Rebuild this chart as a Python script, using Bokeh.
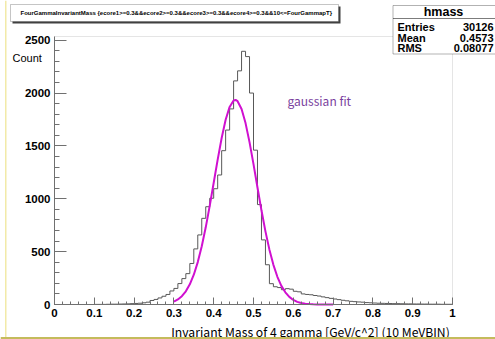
from bokeh.plotting import figure
from bokeh.models import Label, BoxAnnotation, FixedTicker, Range1d
from bokeh.embed import file_html
from bokeh.resources import INLINE

# ---------------- data ----------------
hist_name = "hmass"
title_text = "FourGammaInvariantMass {ecore1>=0.3&&ecore2>=0.3&&ecore3>=0.3&&ecore4>=0.3&&10<=FourGammapT}"
x_title = "Invariant Mass of 4 gamma [GeV/c^2]  (10 MeVBIN)"
y_title = "Count"
fit_label = "gaussian fit"

bin_low = 0.0
bin_width = 0.01
counts = [
    0, 0, 0, 0, 0, 0, 0, 0, 0, 0,
    1, 1, 1, 2, 3, 3, 4, 5, 6, 8,
    10, 12, 16, 22, 38, 48, 62, 78, 95, 128,
    152, 198, 245, 292, 388, 526, 658, 815, 925, 1005,
    1095, 1225, 1455, 1650, 1850, 2115, 2210, 2395, 2345, 2000,
    1460, 945, 611, 376, 197, 168, 160, 140, 150, 145,
    125, 120, 100, 95, 92, 85, 80, 72, 65, 58,
    52, 46, 40, 35, 30, 27, 24, 22, 18, 16,
    14, 12, 11, 10, 9, 8, 8, 7, 6, 6,
    5, 5, 4, 4, 3, 3, 3, 2, 2, 2,
]

fit_x = [0.30, 0.31, 0.32, 0.33, 0.34, 0.35, 0.36, 0.37, 0.38, 0.39,
         0.40, 0.41, 0.42, 0.43, 0.44, 0.45, 0.455, 0.46, 0.47, 0.48, 0.49,
         0.50, 0.51, 0.52, 0.53, 0.54, 0.55, 0.56, 0.57, 0.58, 0.59,
         0.60, 0.61, 0.62, 0.63, 0.64, 0.65, 0.66, 0.67, 0.68, 0.69, 0.70]
fit_y = [28, 48, 79, 125, 191, 282, 401, 551, 730, 933,
         1152, 1371, 1575, 1747, 1869, 1930, 1935, 1923, 1849, 1716, 1536,
         1328, 1107, 891, 692, 519, 375, 262, 176, 115, 72,
         43, 25, 14, 8, 4, 2, 1, 0, 0, 0, 0]

x_ticks = [0, 0.1, 0.2, 0.3, 0.4, 0.5, 0.6, 0.7, 0.8, 0.9, 1.0]
x_tick_labels = ["0", "0.1", "0.2", "0.3", "0.4", "0.5", "0.6", "0.7", "0.8", "0.9", "1"]
y_ticks = [0, 500, 1000, 1500, 2000, 2500]
y_tick_labels = ["0", "500", "1000", "1500", "2000", "2500"]

stats_names = ["Entries", "Mean", "RMS"]
stats_values = ["30126", "0.4573", "0.08077"]

# ---------------- layout ----------------
W, H = 495, 339
FL, FR, FT, FB = 54, 452, 36, 304
X0, X1 = 0.0, 1.0
Y0, Y1 = 0.0, 2535.0


def sx(px):
    return X0 + (px - FL) / (FR - FL) * (X1 - X0)


def sy(py):
    return Y0 + (FB - py) / (FB - FT) * (Y1 - Y0)


p = figure(width=W, height=H, x_range=Range1d(sx(0), sx(W)), y_range=Range1d(sy(H), sy(0)),
           output_backend="svg", toolbar_location=None, min_border=0)
p.grid.visible = False
p.background_fill_color = "white"
p.border_fill_color = "white"
p.outline_line_color = None

LBL_FONT = "Liberation Sans"
JP_FONT = "Noto Sans CJK JP"

p.xaxis.fixed_location = Y0
p.yaxis.fixed_location = X0
p.xaxis.bounds = (X0, X1)
p.yaxis.bounds = (Y0, Y1)
p.xaxis.ticker = FixedTicker(ticks=x_ticks, minor_ticks=[round(i * 0.02, 2) for i in range(51)])
p.xaxis.major_label_overrides = {t: l for t, l in zip(x_ticks, x_tick_labels)}
p.yaxis.ticker = FixedTicker(ticks=y_ticks, minor_ticks=list(range(0, 2600, 100)))
p.yaxis.major_label_overrides = {t: l for t, l in zip(y_ticks, y_tick_labels)}

for ax in (p.xaxis, p.yaxis):
    ax.axis_line_color = "#707070"
    ax.major_tick_line_color = "#707070"
    ax.minor_tick_line_color = "#707070"
    ax.major_tick_out = 0
    ax.minor_tick_out = 0
    ax.major_label_text_font = LBL_FONT
    ax.major_label_text_font_style = "bold"
    ax.major_label_text_font_size = "11.5px"
    ax.major_label_text_color = "black"
    ax.major_label_standoff = 4

p.xaxis.major_tick_in = 7
p.xaxis.minor_tick_in = 3
p.yaxis.major_tick_in = 12
p.yaxis.minor_tick_in = 5

# frame (top and right edges)
p.add_layout(BoxAnnotation(left=X0, right=X1, bottom=Y0, top=Y1, fill_alpha=0,
                           line_color="#a8a8a8", line_width=1, level="underlay"))

# histogram outline
edges = [bin_low + i * bin_width for i in range(len(counts) + 1)]
p.step(x=edges, y=counts + [counts[-1]], mode="after", line_color="#585858", line_width=1)

# gaussian fit
p.line(x=fit_x, y=fit_y, line_color="#d010d0", line_width=2)

p.add_layout(Label(x=sx(287), y=sy(100), text=fit_label, text_baseline="middle",
                   text_color="#7a3f9e", text_font=JP_FONT, text_font_size="12px"))

# axis titles
p.add_layout(Label(x=sx(12), y=sy(57), text=y_title, text_baseline="middle",
                   text_font=LBL_FONT, text_font_size="11px", text_color="black"))
p.add_layout(Label(x=sx(452), y=sy(331), text=x_title, text_align="right", text_baseline="middle",
                   text_font=JP_FONT, text_font_size="12.2px", text_color="black"))

# title box with shadow
p.add_layout(BoxAnnotation(left=sx(12), right=sx(340), top=sy(6), bottom=sy(23),
                           fill_color="#404040", fill_alpha=1, line_color=None))
p.add_layout(BoxAnnotation(left=sx(10), right=sx(338), top=sy(4), bottom=sy(21),
                           fill_color="white", fill_alpha=1, line_color="#404040", line_width=1))
p.add_layout(Label(x=sx(20), y=sy(12.5), text=title_text, text_baseline="middle",
                   text_font=LBL_FONT, text_font_style="bold", text_font_size="6px", text_color="black"))

# stats box
p.add_layout(BoxAnnotation(left=sx(392.5), right=sx(500), top=sy(5), bottom=sy(53.5),
                           fill_color="white", fill_alpha=1, line_color="black", line_width=1))
p.add_layout(BoxAnnotation(left=sx(392.5), right=sx(500), top=sy(18), bottom=sy(18),
                           fill_alpha=0, line_color="black", line_width=1))
p.add_layout(Label(x=sx(443), y=sy(11.5), text=hist_name, text_align="center", text_baseline="middle",
                   text_font=LBL_FONT, text_font_style="bold", text_font_size="12.5px", text_color="black"))
row_y = [26.5, 37.0, 47.5]
for name, val, ry in zip(stats_names, stats_values, row_y):
    p.add_layout(Label(x=sx(397), y=sy(ry), text=name, text_baseline="middle",
                       text_font=LBL_FONT, text_font_style="bold", text_font_size="11px", text_color="black"))
    p.add_layout(Label(x=sx(493), y=sy(ry), text=val, text_align="right", text_baseline="middle",
                       text_font=LBL_FONT, text_font_style="bold", text_font_size="11px", text_color="black"))

# yellow window edges of the screenshot
p.add_layout(BoxAnnotation(left=sx(4.5), right=sx(6), top=sy(0), bottom=sy(337),
                           fill_color="#f2eaa8", fill_alpha=1, line_color=None))
p.add_layout(BoxAnnotation(left=sx(0), right=sx(495), top=sy(336.5), bottom=sy(339),
                           fill_color="#c4bb5c", fill_alpha=1, line_color=None))

open("out.html", "w").write(file_html(p, INLINE))
